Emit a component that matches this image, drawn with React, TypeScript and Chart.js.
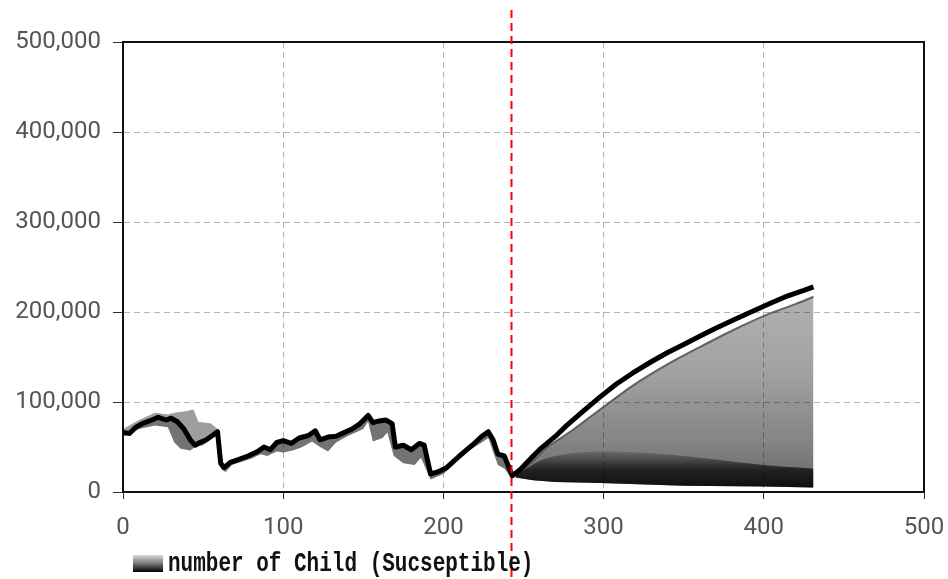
import { useEffect, useRef } from 'react';
import { Chart, registerables } from 'chart.js';

Chart.register(...registerables);

// ---- data ----
const seriesLabel = 'number of Child (Sucseptible)';
const markerTime = 242;

const xTickValues = [0, 100, 200, 300, 400, 500];
const yTickValues = [0, 100000, 200000, 300000, 400000, 500000];

// main (most dense) trajectory
const mainTimes = [0, 4, 8, 12, 18, 22, 27, 30, 34, 38, 42, 45, 48, 52, 56, 59, 61, 63, 67, 72, 78, 84, 88, 92, 96, 100, 105, 110, 116, 120, 123, 128, 133, 138, 143, 148, 153, 156, 160, 164, 168, 170, 175, 180, 185, 188, 192, 196, 202, 210, 218, 224, 228, 231, 234, 238, 243, 248, 255, 260, 270, 277, 288, 298, 308, 318, 330, 340, 350, 360, 370, 381, 392, 402, 415, 425, 431];
const mainValues = [66000, 65000, 72000, 76000, 80000, 83000, 80000, 82000, 78000, 70000, 58000, 52000, 55000, 58000, 63000, 67000, 32000, 27000, 33000, 36000, 40000, 45000, 50000, 47000, 55000, 57000, 54000, 60000, 63000, 68000, 58000, 61000, 62000, 66000, 70000, 76000, 85000, 77000, 79000, 80000, 76000, 50000, 52000, 47000, 54000, 52000, 20000, 22000, 27000, 40000, 52000, 62000, 67000, 58000, 42000, 40000, 18000, 25000, 38000, 47000, 62000, 74000, 91000, 106000, 120000, 132000, 145000, 155000, 164000, 173000, 182000, 191000, 200000, 208000, 218000, 224000, 228000];

// early ensemble envelopes
const highTimes = [0, 10, 20, 28, 32, 40, 44, 47, 55, 59];
const highValues = [70000, 80000, 88000, 86000, 88000, 90000, 92000, 78000, 76000, 70000];

const lowTimes = [0, 10, 20, 28, 32, 36, 42, 45, 50, 56, 59, 61, 64, 68, 80, 86, 90, 96, 100, 106, 112, 118, 123, 128, 133, 140, 150, 153, 156, 162, 165, 169, 175, 182, 186, 192, 200, 215, 224, 228, 231, 234, 238, 243];
const lowValues = [62000, 70000, 74000, 72000, 55000, 48000, 46000, 50000, 52000, 60000, 64000, 28000, 22000, 30000, 37000, 42000, 40000, 45000, 44000, 46000, 50000, 56000, 50000, 45000, 55000, 62000, 70000, 78000, 56000, 60000, 66000, 40000, 32000, 30000, 38000, 14000, 20000, 45000, 55000, 60000, 45000, 30000, 26000, 14000];

// late ensemble: second (upper) edge, dense low band, floor
const secondTimes = [245, 252, 258, 265, 280, 298, 318, 340, 360, 381, 402, 420, 431];
const secondValues = [18000, 28000, 38000, 50000, 68000, 92000, 118000, 142000, 161000, 180000, 197000, 209000, 217000];

const bandTimes = [245, 252, 262, 280, 300, 330, 360, 400, 431];
const bandValues = [18000, 26000, 36000, 43000, 45000, 43000, 38000, 30000, 26000];

const floorTimes = [245, 256, 270, 298, 350, 400, 431];
const floorValues = [16000, 13000, 11000, 10000, 7000, 6000, 5000];

const zip = (xs: number[], ys: number[]) => xs.map((x, i) => ({ x, y: ys[i] }));

const areaGradient = (ctx: any) => {
  const chart = ctx.chart;
  const y = chart.scales?.y;
  if (!chart.chartArea || !y) return 'rgba(0,0,0,0.35)';
  const g = chart.ctx.createLinearGradient(0, y.getPixelForValue(0), 0, y.getPixelForValue(230000));
  g.addColorStop(0, 'rgba(0,0,0,0.6)');
  g.addColorStop(0.25, 'rgba(0,0,0,0.48)');
  g.addColorStop(0.6, 'rgba(0,0,0,0.36)');
  g.addColorStop(1, 'rgba(0,0,0,0.3)');
  return g;
};

const bandGradient = (ctx: any) => {
  const chart = ctx.chart;
  const y = chart.scales?.y;
  if (!chart.chartArea || !y) return 'rgba(0,0,0,0.5)';
  const g = chart.ctx.createLinearGradient(0, y.getPixelForValue(0), 0, y.getPixelForValue(45000));
  g.addColorStop(0, 'rgba(0,0,0,0.9)');
  g.addColorStop(0.55, 'rgba(0,0,0,0.7)');
  g.addColorStop(1, 'rgba(0,0,0,0.15)');
  return g;
};

const framePlugin = {
  id: 'frameAndMarker',
  afterDraw(chart: any) {
    const { ctx, chartArea: a, scales } = chart;
    ctx.save();
    // plot frame
    ctx.strokeStyle = '#111';
    ctx.lineWidth = 2;
    ctx.setLineDash([]);
    ctx.strokeRect(a.left, a.top, a.right - a.left, a.bottom - a.top);
    // red dashed marker
    const mx = Math.round(scales.x.getPixelForValue(markerTime)) + 0.5;
    ctx.strokeStyle = '#ff0000';
    ctx.lineWidth = 2;
    ctx.setLineDash([8, 5]);
    ctx.beginPath();
    ctx.moveTo(mx, 10);
    ctx.lineTo(mx, chart.height);
    ctx.stroke();
    ctx.setLineDash([]);
    // legend
    const sx = 133, sy = 555, sw = 30, sh = 17;
    const g = ctx.createLinearGradient(0, sy, 0, sy + sh);
    g.addColorStop(0, '#d8d8d8');
    g.addColorStop(0.5, '#777');
    g.addColorStop(1, '#000');
    ctx.fillStyle = g;
    ctx.fillRect(sx, sy, sw, sh);
    ctx.fillStyle = '#111';
    ctx.font = 'bold 21px "Liberation Mono"';
    ctx.textBaseline = 'alphabetic';
    ctx.textAlign = 'left';
    ctx.translate(168, 571);
    ctx.scale(1, 1.3);
    ctx.fillText(chart.data.datasets[0].label, 0, 0);
    ctx.restore();
  },
};

export default function App() {
  const ref = useRef<HTMLCanvasElement | null>(null);

  useEffect(() => {
    if (!ref.current) return;
    const tickFont = { family: 'Roboto', size: 24 };
    const chart = new Chart(ref.current, {
      type: 'line',
      data: {
        datasets: [
          {
            label: seriesLabel,
            data: zip(mainTimes, mainValues),
            borderColor: '#000',
            borderWidth: 5,
            borderJoinStyle: 'round',
            pointRadius: 0,
            tension: 0,
            fill: false,
            order: 0,
          },
          {
            label: 'high',
            data: zip(highTimes, highValues),
            borderWidth: 0,
            borderColor: 'rgba(0,0,0,0)',
            backgroundColor: 'rgba(0,0,0,0.38)',
            pointRadius: 0,
            fill: 0,
            order: 2,
          },
          {
            label: 'low',
            data: zip(lowTimes, lowValues),
            borderWidth: 0,
            borderColor: 'rgba(0,0,0,0)',
            backgroundColor: 'rgba(0,0,0,0.55)',
            pointRadius: 0,
            fill: 0,
            order: 2,
          },
          {
            label: 'second',
            data: zip(secondTimes, secondValues),
            borderColor: 'rgba(60,60,60,0.75)',
            borderWidth: 2,
            backgroundColor: areaGradient,
            pointRadius: 0,
            tension: 0.3,
            fill: 4,
            order: 3,
          },
          {
            label: 'floor',
            data: zip(floorTimes, floorValues),
            borderWidth: 0,
            borderColor: 'rgba(0,0,0,0)',
            pointRadius: 0,
            fill: false,
            order: 5,
          },
          {
            label: 'band',
            data: zip(bandTimes, bandValues),
            borderWidth: 0,
            borderColor: 'rgba(0,0,0,0)',
            backgroundColor: bandGradient,
            pointRadius: 0,
            tension: 0.3,
            fill: 4,
            order: 1,
          },
        ],
      },
      options: {
        responsive: false,
        animation: false,
        devicePixelRatio: 1,
        layout: { padding: { top: 42, right: 24, left: 0, bottom: 0 } },
        plugins: { legend: { display: false }, tooltip: { enabled: false } },
        scales: {
          x: {
            type: 'linear',
            min: 0,
            max: 500,
            afterBuildTicks: (s: any) => { s.ticks = xTickValues.map((v) => ({ value: v })); },
            afterFit: (s: any) => { s.height = 87; s.paddingLeft = 0; s.paddingRight = 0; },
            ticks: { font: tickFont, color: '#555', padding: 15, maxRotation: 0, autoSkip: false },
            grid: { color: '#b5b5b5', lineWidth: 1, tickColor: '#333', tickLength: 7 },
            border: { display: true, color: '#111', width: 2, dash: [6, 4] },
          },
          y: {
            type: 'linear',
            min: 0,
            max: 500000,
            afterBuildTicks: (s: any) => { s.ticks = yTickValues.map((v) => ({ value: v })); },
            afterFit: (s: any) => { s.width = 123; s.paddingTop = 0; s.paddingBottom = 0; },
            ticks: {
              font: tickFont,
              color: '#555',
              padding: 12,
              callback: (v: any) => Number(v).toLocaleString('en-US'),
            },
            grid: { color: '#b5b5b5', lineWidth: 1, tickColor: '#333', tickLength: 10 },
            border: { display: true, color: '#111', width: 2, dash: [6, 4] },
          },
        },
      },
      plugins: [framePlugin],
    });
    return () => chart.destroy();
  }, []);

  return (
    <div style={{ position: 'fixed', left: 0, top: 0, width: 948, height: 579, background: '#fff' }}>
      <canvas ref={ref} width={948} height={579} style={{ display: 'block' }} />
    </div>
  );
}
